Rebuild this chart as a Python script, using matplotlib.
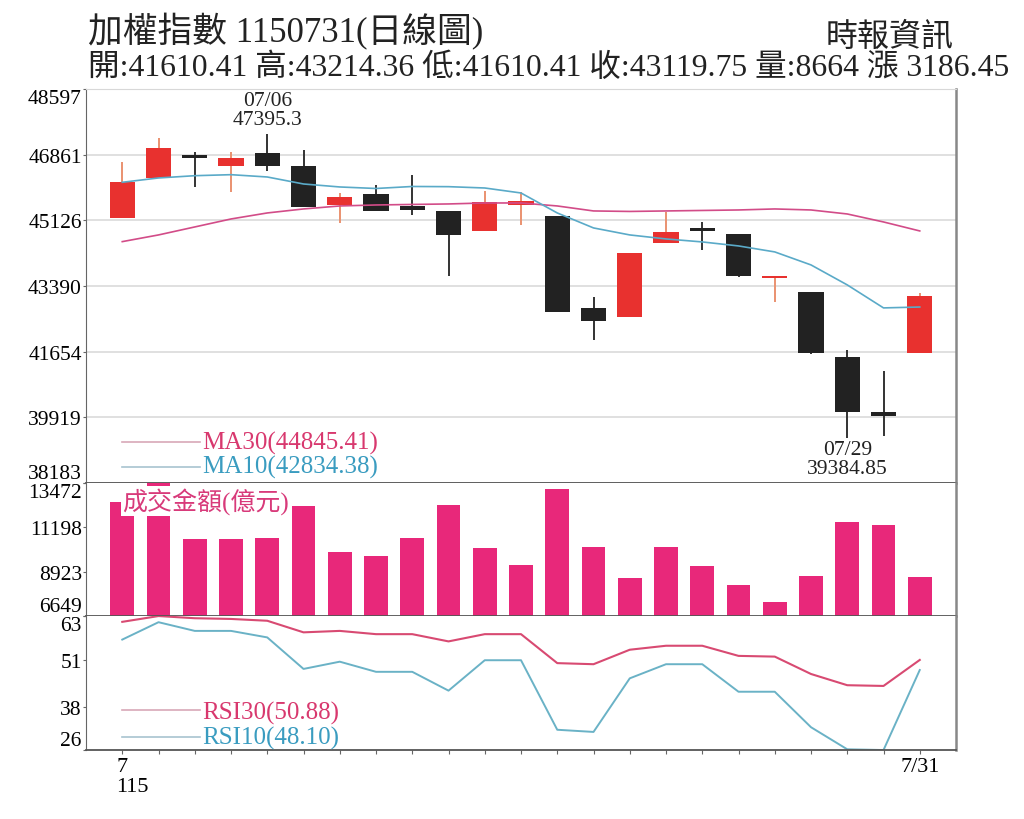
import numpy as np
import matplotlib.pyplot as plt
from matplotlib.transforms import ScaledTranslation

plt.rcParams['font.family'] = ['Liberation Serif', 'Noto Sans CJK TC', 'DejaVu Sans']

# daily candles, July (ROC 115)
opens = [45181, 46246, 46840, 46563, 46914, 46555, 45532, 45815, 45514, 45366, 44853, 45532,
         45250, 42819, 42581, 44536, 44925, 44766, 43596, 43242, 41508, 40071, 41610.41]
closes = [46132, 47030, 46770, 46774, 46563, 45487, 45736, 45374, 45408, 44748, 45619, 45646,
          42697, 42476, 44256, 44827, 44853, 43664, 43649, 41614, 40071, 39965, 43119.75]
highs = [46660, 47295, 46941, 46941, 47395.3, 46993, 45841, 46061, 46333, 45366, 45910, 45868,
         45250, 43094, 44256, 45355, 45091, 44766, 43649, 43242, 41709, 41155, 43214.36]
lows = [45181, 46246, 46000, 45884, 46438, 45470, 45057, 45374, 45268, 43648, 44853, 45004,
        42697, 41973, 42581, 44536, 44343, 43620, 42977, 41590, 39384.85, 39437, 41610.41]

ma30 = [44563, 44740, 44951, 45162, 45321, 45427, 45506, 45532, 45546, 45559, 45585, 45585,
        45506, 45374, 45361, 45374, 45387, 45400, 45427, 45400, 45294, 45083, 44845.41]
ma10 = [46132, 46246, 46306, 46333, 46272, 46087, 46008, 45968, 46021, 46016, 45981, 45849,
        45321, 44925, 44740, 44634, 44555, 44449, 44291, 43947, 43419, 42811, 42834.38]

volume = [12497, 13460, 10599, 10599, 10635, 12276, 9948, 9743, 10635, 12359, 10122, 9281,
          13164, 10173, 8583, 10173, 9199, 8239, 7383, 8686, 11456, 11333, 8664]

rsi30 = [61.4, 63.0, 62.4, 62.2, 61.7, 58.5, 58.9, 58.0, 58.0, 56.0, 58.0, 58.0,
         50.0, 49.7, 53.7, 54.8, 54.8, 52.0, 51.8, 47.0, 43.9, 43.7, 50.88]
rsi10 = [56.5, 61.3, 58.9, 58.9, 57.1, 48.4, 50.4, 47.6, 47.6, 42.4, 50.8, 50.8,
         31.6, 31.0, 45.8, 49.7, 49.7, 42.1, 42.1, 32.3, 26.2, 26.0, 48.10]

price_ticks = [38183, 39919, 41654, 43390, 45126, 46861, 48597]
vol_ticks = [6649, 8923, 11198, 13472]
rsi_ticks = [26, 38, 51, 63]

RED = '#e8312f'
BLACK = '#222222'
PINK = '#d24c88'
BLUE = '#5aaac8'
BAR = '#e8287a'

fig = plt.figure(figsize=(10.24, 8.2), dpi=100)
ax1 = fig.add_axes([0.084, 0.4098, 0.8496, 0.4804])
ax2 = fig.add_axes([0.084, 0.2476, 0.8496, 0.1622])
ax3 = fig.add_axes([0.084, 0.0841, 0.8496, 0.1634])
x = np.arange(len(closes))

# candlesticks
up = [c >= o for o, c in zip(opens, closes)]
body_col = [RED if u else BLACK for u in up]
wick_col = ['#ea9270' if u else '#333333' for u in up]
ax1.vlines(x, lows, highs, colors=wick_col, lw=1.4, zorder=2)
bottoms = np.minimum(opens, closes)
heights = np.maximum(np.abs(np.array(closes) - np.array(opens)), 60)
ax1.bar(x, heights, bottom=bottoms, width=0.7, color=body_col, zorder=3)
ax1.plot(x, ma30, color=PINK, lw=1.2, zorder=4)
ax1.plot(x, ma10, color=BLUE, lw=1.2, zorder=4)

ax1.set_ylim(price_ticks[0], price_ticks[-1])
ax1.set_yticks(price_ticks)
ax1.grid(axis='y', color='#dddddd', lw=1.3)
ax1.set_axisbelow(True)

# high / low notes
ax1.annotate('07/06\n47395.3', xy=(4, highs[4]), xytext=(0, 4), textcoords='offset points',
             ha='center', va='bottom', fontsize=15.5, linespacing=1.0, color='#222222',
             annotation_clip=False)
ax1.annotate('07/29\n39384.85', xy=(20, lows[20]), xytext=(0, -2), textcoords='offset points',
             ha='center', va='top', fontsize=15.5, linespacing=1.0, color='#222222',
             annotation_clip=False, zorder=10,
             bbox=dict(boxstyle='square,pad=0.05', fc='white', ec='none'))

# MA legend
ax1.plot([0.0414, 0.131], [0.104, 0.104], color='#d8a8b8', lw=1.2, transform=ax1.transAxes)
ax1.plot([0.0414, 0.131], [0.041, 0.041], color='#a8c4d0', lw=1.2, transform=ax1.transAxes)
ax1.text(0.133, 0.104, 'MA30(44845.41)', transform=ax1.transAxes, color='#d8386e',
         fontsize=18, va='center', ha='left')
ax1.text(0.133, 0.041, 'MA10(42834.38)', transform=ax1.transAxes, color='#3a9cc0',
         fontsize=18, va='center', ha='left')

# turnover bars
ax2.bar(x, volume, width=0.65, color=BAR, zorder=2)
ax2.set_ylim(vol_ticks[0], vol_ticks[-1])
ax2.set_yticks(vol_ticks)
ax2.text(0.0414, 0.865, '成交金額(億元)', transform=ax2.transAxes, color='#d83a7a',
         fontsize=18, va='center', ha='left', zorder=5,
         bbox=dict(boxstyle='square,pad=0.05', fc='white', ec='none'))

# RSI
ax3.plot(x, rsi30, color='#d84a72', lw=1.5)
ax3.plot(x, rsi10, color='#6ab2c6', lw=1.4)
ax3.set_ylim(rsi_ticks[0], rsi_ticks[-1])
ax3.set_yticks(rsi_ticks)
ax3.plot([0.0414, 0.131], [0.30, 0.30], color='#d8a8b8', lw=1.2, transform=ax3.transAxes)
ax3.plot([0.0414, 0.131], [0.10, 0.10], color='#a8c4d0', lw=1.2, transform=ax3.transAxes)
ax3.text(0.133, 0.284, 'RSI30(50.88)', transform=ax3.transAxes, color='#d8386e',
         fontsize=18, va='center', ha='left')
ax3.text(0.133, 0.097, 'RSI10(48.10)', transform=ax3.transAxes, color='#3a9cc0',
         fontsize=18, va='center', ha='left')

xlabels = [''] * len(x)
xlabels[0] = '7\n115'
xlabels[-1] = '7/31'
ax3.set_xticks(x)
ax3.set_xticklabels(xlabels, fontsize=16, linespacing=1.05)
ax3.tick_params(axis='x', length=3, color='#666666', pad=2)
first = ax3.get_xticklabels()[0]
first.set_ha('left')
first.set_multialignment('left')
first.set_transform(first.get_transform() + ScaledTranslation(-6 / 100, 0, fig.dpi_scale_trans))

for ax in (ax1, ax2, ax3):
    ax.set_xlim(-1, len(x))
    ax.tick_params(axis='y', length=2, color='#666666', labelsize=15.5, pad=1)
    ax.spines['left'].set_color('#666666')
    ax.spines['right'].set_color('#888888')
    ax.spines['right'].set_linewidth(1.8)
    ax.spines['bottom'].set_color('#555555')
    ax.spines['bottom'].set_linewidth(1.3)
    ax.spines['top'].set_visible(False)
    labs = ax.get_yticklabels()
    labs[0].set_va('bottom')
    labs[-1].set_va('top')
for ax in (ax1, ax2):
    ax.tick_params(axis='x', bottom=False, labelbottom=False)
ax1.spines['top'].set_visible(True)
ax1.spines['top'].set_color('#d8d8d8')

# header
fig.text(0.086, 0.961, '加權指數 1150731(日線圖)', fontsize=25, va='center', ha='left', color='#222222')
fig.text(0.086, 0.917, '開:41610.41 高:43214.36 低:41610.41 收:43119.75 量:8664 漲 3186.45',
         fontsize=22.8, va='center', ha='left', color='#222222')
fig.text(0.931, 0.954, '時報資訊', fontsize=23, va='center', ha='right', color='#222222')

fig.savefig('out.png', dpi=100, facecolor='white')
